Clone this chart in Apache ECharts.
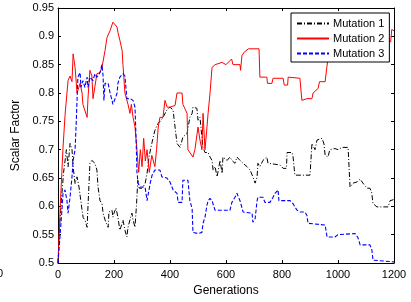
<!DOCTYPE html>
<html>
<head>
<meta charset="utf-8">
<script src="https://cdn.jsdelivr.net/npm/echarts@6/dist/echarts.min.js"></script>
<style>
  html, body { margin: 0; padding: 0; background: #fff; }
  #main { width: 411px; height: 302px; }
</style>
</head>
<body>
<div id="main"></div>
<script>
// Mutation 1 (black, dash-dot)
const gen1 = [0, 5, 12, 20, 30, 36, 43, 50, 54, 61, 68, 75, 79, 86, 90, 96, 104, 107, 114, 121, 132, 139, 143, 150, 157, 161, 168, 175, 179, 182, 193, 196, 200, 207, 211, 214, 221, 229, 232, 239, 246, 250, 257, 264, 268, 275, 280, 285, 290, 300, 311, 318, 325, 335, 346, 357, 368, 375, 389, 400, 411, 418, 425, 436, 446, 461, 471, 479, 482, 496, 500, 507, 514, 518, 525, 536, 543, 550, 554, 561, 568, 579, 586, 589, 604, 614, 621, 632, 639, 650, 661, 675, 686, 696, 704, 711, 714, 721, 732, 746, 750, 757, 793, 804, 816, 818, 836, 839, 846, 900, 907, 911, 918, 925, 943, 950, 954, 964, 971, 989, 1000, 1014, 1036, 1043, 1054, 1068, 1079, 1089, 1104, 1114, 1120, 1125, 1139, 1179, 1186, 1200];
const m1 = [0.5, 0.56, 0.61, 0.66, 0.70, 0.67, 0.711, 0.70, 0.67, 0.64, 0.652, 0.634, 0.634, 0.593, 0.58, 0.576, 0.563, 0.599, 0.676, 0.681, 0.676, 0.664, 0.634, 0.61, 0.605, 0.588, 0.576, 0.576, 0.563, 0.59, 0.593, 0.581, 0.588, 0.597, 0.599, 0.581, 0.558, 0.57, 0.576, 0.558, 0.546, 0.563, 0.576, 0.588, 0.576, 0.563, 0.60, 0.646, 0.632, 0.632, 0.64, 0.658, 0.687, 0.711, 0.734, 0.746, 0.752, 0.757, 0.77, 0.775, 0.77, 0.74, 0.711, 0.704, 0.722, 0.729, 0.757, 0.764, 0.775, 0.773, 0.752, 0.757, 0.722, 0.704, 0.695, 0.695, 0.687, 0.681, 0.664, 0.67, 0.652, 0.681, 0.658, 0.687, 0.681, 0.687, 0.681, 0.676, 0.687, 0.681, 0.676, 0.67, 0.664, 0.652, 0.641, 0.652, 0.676, 0.67, 0.681, 0.687, 0.676, 0.673, 0.673, 0.667, 0.667, 0.695, 0.695, 0.69, 0.655, 0.655, 0.711, 0.712, 0.70, 0.717, 0.72, 0.71, 0.69, 0.687, 0.70, 0.702, 0.70, 0.704, 0.704, 0.634, 0.641, 0.643, 0.648, 0.641, 0.632, 0.632, 0.625, 0.605, 0.599, 0.599, 0.61, 0.612];

// Mutation 2 (red, solid)
const gen2 = [0, 8, 18, 25, 32, 36, 43, 50, 54, 61, 68, 79, 86, 89, 104, 107, 114, 121, 125, 139, 150, 157, 168, 175, 186, 196, 205, 211, 214, 221, 229, 232, 239, 250, 257, 262, 268, 275, 282, 288, 294, 300, 306, 312, 318, 326, 335, 346, 352, 358, 364, 370, 375, 382, 390, 400, 418, 425, 443, 446, 461, 464, 482, 489, 500, 507, 514, 518, 525, 532, 536, 543, 550, 561, 586, 600, 620, 625, 650, 652, 657, 665, 680, 718, 721, 746, 748, 764, 768, 804, 808, 820, 822, 864, 871, 878, 889, 907, 911, 929, 934, 954, 960, 968, 990, 1050, 1100, 1150, 1188, 1192, 1200];
const m2 = [0.5, 0.6, 0.704, 0.76, 0.80, 0.822, 0.83, 0.82, 0.869, 0.845, 0.80, 0.817, 0.80, 0.78, 0.757, 0.79, 0.84, 0.83, 0.79, 0.834, 0.836, 0.845, 0.875, 0.898, 0.91, 0.925, 0.92, 0.916, 0.907, 0.893, 0.875, 0.85, 0.80, 0.78, 0.764, 0.78, 0.757, 0.74, 0.70, 0.66, 0.70, 0.67, 0.72, 0.68, 0.70, 0.66, 0.69, 0.67, 0.70, 0.74, 0.757, 0.76, 0.757, 0.787, 0.775, 0.775, 0.778, 0.80, 0.80, 0.78, 0.764, 0.70, 0.687, 0.70, 0.74, 0.717, 0.70, 0.764, 0.70, 0.74, 0.764, 0.80, 0.845, 0.85, 0.854, 0.85, 0.86, 0.85, 0.85, 0.84, 0.866, 0.872, 0.878, 0.878, 0.828, 0.828, 0.817, 0.817, 0.826, 0.826, 0.814, 0.814, 0.828, 0.826, 0.787, 0.784, 0.79, 0.79, 0.80, 0.808, 0.82, 0.82, 0.845, 0.875, 0.89, 0.90, 0.89, 0.905, 0.89, 0.912, 0.91];

// Mutation 3 (blue, dashed)
const gen3 = [0, 7, 14, 18, 25, 32, 36, 43, 50, 54, 61, 65, 68, 71, 79, 82, 89, 96, 104, 107, 114, 125, 132, 139, 150, 157, 161, 164, 168, 175, 179, 186, 193, 196, 204, 211, 214, 221, 232, 239, 246, 257, 264, 268, 275, 279, 282, 286, 293, 311, 318, 329, 336, 346, 364, 371, 389, 400, 407, 411, 425, 429, 443, 446, 464, 471, 479, 482, 500, 514, 518, 525, 532, 536, 543, 550, 561, 614, 621, 632, 639, 643, 650, 661, 693, 696, 704, 711, 714, 732, 739, 757, 768, 775, 786, 789, 829, 839, 846, 854, 864, 882, 889, 893, 954, 961, 989, 1000, 1061, 1071, 1079, 1114, 1121, 1125, 1200];
const m3 = [0.5, 0.546, 0.593, 0.623, 0.629, 0.61, 0.588, 0.616, 0.652, 0.681, 0.70, 0.746, 0.787, 0.828, 0.836, 0.81, 0.822, 0.81, 0.828, 0.81, 0.828, 0.822, 0.834, 0.828, 0.836, 0.85, 0.83, 0.787, 0.817, 0.82, 0.817, 0.80, 0.787, 0.78, 0.79, 0.80, 0.817, 0.828, 0.834, 0.83, 0.79, 0.79, 0.79, 0.787, 0.775, 0.717, 0.66, 0.641, 0.634, 0.634, 0.61, 0.64, 0.655, 0.664, 0.664, 0.652, 0.65, 0.643, 0.643, 0.629, 0.623, 0.607, 0.607, 0.646, 0.646, 0.61, 0.596, 0.554, 0.552, 0.554, 0.57, 0.581, 0.602, 0.61, 0.614, 0.61, 0.593, 0.593, 0.607, 0.616, 0.623, 0.618, 0.61, 0.59, 0.588, 0.572, 0.578, 0.61, 0.616, 0.616, 0.607, 0.607, 0.616, 0.623, 0.629, 0.61, 0.61, 0.605, 0.599, 0.593, 0.59, 0.59, 0.584, 0.57, 0.567, 0.546, 0.546, 0.55, 0.552, 0.545, 0.532, 0.532, 0.523, 0.505, 0.502];

const seriesNames = ['Mutation 1', 'Mutation 2', 'Mutation 3'];

function pairs(xs, ys) {
  return xs.map((x, i) => [x, ys[i]]);
}

const chart = echarts.init(document.getElementById('main'));
const font = 'Liberation Sans, Arial, sans-serif';

const baseX = {
  type: 'value', min: 0, max: 1200, interval: 200,
  axisLine: { show: true, onZero: false, lineStyle: { color: '#000', width: 1 } },
  axisTick: { show: true, inside: true, length: 3, lineStyle: { color: '#000' } },
  splitLine: { show: false }
};
const baseY = {
  type: 'value', min: 0.5, max: 0.95, interval: 0.05,
  axisLine: { show: true, onZero: false, lineStyle: { color: '#000', width: 1 } },
  axisTick: { show: true, inside: true, length: 3, lineStyle: { color: '#000' } },
  splitLine: { show: false }
};

chart.setOption({
  animation: false,
  backgroundColor: '#fff',
  grid: { left: 58, right: 17, top: 8, bottom: 39 },
  xAxis: [
    Object.assign({}, baseX, {
      position: 'bottom',
      name: 'Generations', nameLocation: 'middle', nameGap: 19,
      nameTextStyle: { color: '#000', fontSize: 12, fontFamily: font },
      axisLabel: { color: '#000', fontSize: 11, fontFamily: font, margin: 6,
        formatter: v => String(v) }
    }),
    Object.assign({}, baseX, { position: 'top', axisLabel: { show: false } })
  ],
  yAxis: [
    Object.assign({}, baseY, {
      position: 'left',
      name: 'Scalar Factor', nameLocation: 'middle', nameGap: 34,
      nameTextStyle: { color: '#000', fontSize: 12, fontFamily: font },
      axisLabel: { color: '#000', fontSize: 11, fontFamily: font, margin: 4,
        formatter: v => String(parseFloat(v.toFixed(2))) }
    }),
    Object.assign({}, baseY, { position: 'right', axisLabel: { show: false } })
  ],
  legend: {
    orient: 'vertical', left: 291, top: 13,
    data: seriesNames,
    backgroundColor: '#fff', borderColor: '#000', borderWidth: 1, borderRadius: 0,
    padding: [5, 5, 3, 5], itemWidth: 32, itemHeight: 12, itemGap: 4,
    itemStyle: { opacity: 0 },
    textStyle: { color: '#000', fontSize: 11, fontFamily: font, padding: [0, 0, 0, -1] },
    z: 10
  },
  graphic: [{
    type: 'text', left: -3, top: 268,
    style: { text: '0', fill: '#000', font: '11px ' + font }
  }],
  series: [
    {
      name: seriesNames[0], type: 'line', data: pairs(gen1, m1),
      showSymbol: false, symbol: 'none',
      lineStyle: { color: '#000', width: 1, type: [5, 2, 1, 2] },
      itemStyle: { color: '#000' }
    },
    {
      name: seriesNames[1], type: 'line', data: pairs(gen2, m2),
      showSymbol: false, symbol: 'none',
      lineStyle: { color: '#ff0000', width: 1, type: 'solid' },
      itemStyle: { color: '#ff0000' }
    },
    {
      name: seriesNames[2], type: 'line', data: pairs(gen3, m3),
      showSymbol: false, symbol: 'none',
      lineStyle: { color: '#0000ff', width: 1.1, type: [4, 2] },
      itemStyle: { color: '#0000ff' }
    }
  ]
});
</script>
</body>
</html>
